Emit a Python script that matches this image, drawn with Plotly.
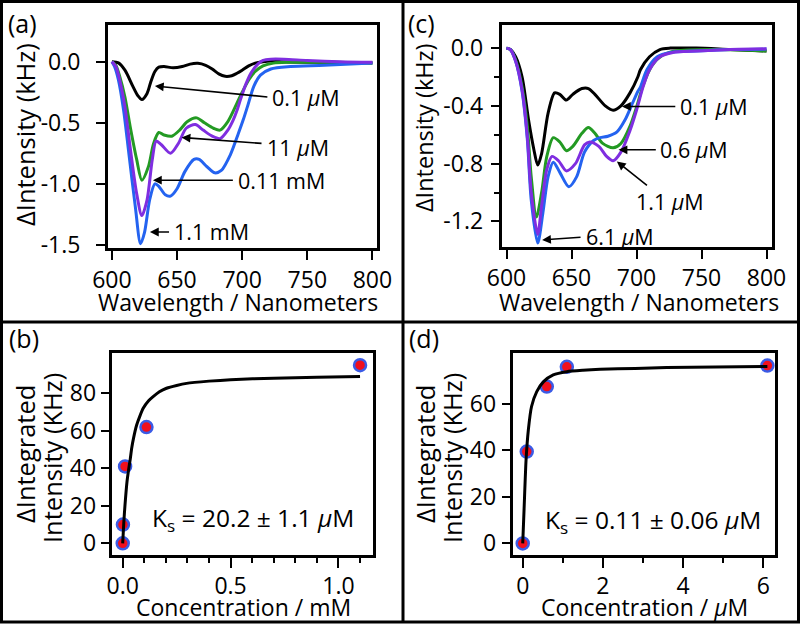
import plotly.graph_objects as go

W, H = 800, 629
FONT = "Open Sans"

# ---------------- Panel (a) spectra ----------------
a_black_wl = [600, 605, 610, 616, 620, 623, 627, 630, 633, 636, 640, 647, 654, 660, 666, 672, 677, 682, 687, 692, 696, 700, 705, 710, 716, 722, 730, 760, 800]
a_black_y = [0, -0.01, -0.07, -0.20, -0.28, -0.31, -0.26, -0.16, -0.08, -0.045, -0.04, -0.05, -0.04, -0.02, -0.014, -0.03, -0.06, -0.10, -0.12, -0.115, -0.095, -0.07, -0.035, -0.012, 0.0, 0.005, 0.0, -0.005, -0.01]

a_green_wl = [600, 603, 606, 610, 614, 619, 623, 628, 632, 636, 640, 646, 652, 658, 665, 671, 678, 683, 689, 696, 700, 705, 710, 716, 724, 735, 770, 800]
a_green_y = [0, -0.03, -0.12, -0.29, -0.53, -0.80, -0.97, -0.86, -0.67, -0.58, -0.60, -0.61, -0.56, -0.49, -0.46, -0.50, -0.545, -0.56, -0.49, -0.34, -0.25, -0.15, -0.08, -0.035, -0.012, -0.005, -0.005, -0.01]

a_purple_wl = [600, 603, 606, 610, 614, 619, 623, 627, 631, 634, 638, 645, 651, 657, 664, 670, 677, 683, 689, 693, 696, 699, 703, 707, 712, 716, 722, 732, 750, 775, 800]
a_purple_y = [0, -0.04, -0.15, -0.37, -0.70, -1.08, -1.26, -1.13, -0.80, -0.65, -0.68, -0.75, -0.67, -0.545, -0.515, -0.56, -0.61, -0.63, -0.56, -0.48, -0.40, -0.30, -0.18, -0.09, -0.02, 0.01, 0.02, 0.02, 0.01, 0.0, -0.005]

a_blue_wl = [600, 602, 605, 609, 613, 618, 622, 625, 629, 633, 636, 641, 645, 650, 656, 663, 667, 673, 679, 684, 691, 697, 701, 704, 709, 714, 722, 737, 763, 800]
a_blue_y = [0, -0.04, -0.15, -0.40, -0.75, -1.19, -1.49, -1.40, -1.13, -1.00, -1.02, -1.09, -1.10, -1.04, -0.90, -0.80, -0.80, -0.86, -0.91, -0.89, -0.76, -0.59, -0.47, -0.37, -0.20, -0.11, -0.06, -0.04, -0.03, -0.01]

# ---------------- Panel (c) spectra ----------------
c_black_wl = [600, 603, 607, 612, 617, 621, 624, 627, 632, 637, 641, 646, 651, 658, 663, 668, 676, 682, 688, 695, 701, 703, 710, 718, 726, 746, 772, 800]
c_black_y = [0, -0.01, -0.06, -0.20, -0.50, -0.70, -0.81, -0.73, -0.45, -0.31, -0.32, -0.36, -0.32, -0.28, -0.28, -0.32, -0.40, -0.43, -0.40, -0.31, -0.20, -0.15, -0.06, -0.01, 0.0, 0.0, -0.01, -0.02]

c_green_wl = [600, 603, 607, 612, 616, 619, 623, 627, 631, 636, 641, 646, 651, 658, 663, 668, 674, 682, 688, 695, 701, 705, 712, 720, 730, 760, 800]
c_green_y = [0, -0.01, -0.08, -0.27, -0.54, -0.89, -1.17, -1.0, -0.75, -0.62, -0.65, -0.71, -0.68, -0.59, -0.55, -0.59, -0.66, -0.69, -0.66, -0.54, -0.38, -0.26, -0.12, -0.05, -0.02, -0.01, -0.02]

c_blue_wl = [600, 603, 607, 612, 616, 619, 624, 628, 632, 636, 641, 648, 654, 660, 667, 672, 678, 685, 691, 697, 701, 703, 708, 716, 726, 746, 772, 800]
c_blue_y = [0, -0.01, -0.09, -0.30, -0.63, -1.05, -1.35, -1.14, -0.89, -0.79, -0.86, -0.96, -0.89, -0.72, -0.64, -0.62, -0.61, -0.58, -0.50, -0.38, -0.30, -0.27, -0.15, -0.06, -0.03, -0.02, -0.01, -0.007]

c_purple_wl = [600, 603, 607, 612, 616, 619, 624, 627, 631, 635, 640, 646, 653, 660, 664, 671, 677, 682, 688, 695, 700, 705, 710, 718, 728, 746, 772, 800]
c_purple_y = [0, -0.01, -0.09, -0.29, -0.61, -1.0, -1.29, -1.09, -0.84, -0.75, -0.78, -0.85, -0.80, -0.67, -0.65, -0.68, -0.75, -0.78, -0.72, -0.57, -0.43, -0.27, -0.15, -0.06, -0.03, -0.02, -0.01, -0.005]

# ---------------- Panel (b) binding ----------------
b_conc = [0.0001, 0.0011, 0.011, 0.11, 1.1]
b_int = [0, 10, 41, 62, 95]
b_fit_x = [0, 0.005, 0.0106, 0.02, 0.026, 0.035, 0.0416, 0.05, 0.0647, 0.08, 0.095, 0.12, 0.141, 0.17, 0.203, 0.25, 0.296, 0.4, 0.5, 0.7, 0.9, 1.1]
b_fit_y = [0, 11, 20.4, 33, 38.2, 45, 50.7, 56, 63.1, 68, 72, 76, 78.2, 80.8, 82.7, 84.2, 85.3, 86.5, 87.3, 88.1, 88.6, 89.0]

# ---------------- Panel (d) binding ----------------
d_conc = [0, 0.1, 0.6, 1.1, 6.1]
d_int = [0, 39.5, 67.5, 76, 76.5]
d_fit_x = [0, 0.033, 0.083, 0.14, 0.22, 0.35, 0.52, 0.76, 1.1, 1.5, 1.93, 2.8, 3.59, 4.8, 6.1]
d_fit_y = [0, 14.4, 35.9, 48.8, 58.9, 65.3, 69.6, 72.5, 73.9, 74.5, 74.9, 75.3, 75.7, 75.9, 76.1]

# tick labels
a_yticks = [0, -0.5, -1.0, -1.5]
a_yticktext = ["0.0", "-0.5", "-1.0", "-1.5"]
c_yticks = [0, -0.4, -0.8, -1.2]
c_yticktext = ["0.0", "-0.4", "-0.8", "-1.2"]
wl_ticks = [600, 650, 700, 750, 800]
b_xticks = [0, 0.5, 1.0]
b_xticktext = ["0.0", "0.5", "1.0"]
b_yticks = [0, 20, 40, 60, 80]
d_xticks = [0, 2, 4, 6]
d_yticks = [0, 20, 40, 60]

BLACK = "#000000"
GREEN = "#239a23"
PURPLE = "#7f2ee0"
BLUE = "#2463f0"

fig = go.Figure()


def spec(x, y, color, xa, ya):
    fig.add_trace(go.Scatter(x=x, y=y, mode="lines", xaxis=xa, yaxis=ya,
                             line=dict(color=color, width=3, shape="spline", smoothing=0.8),
                             showlegend=False, hoverinfo="skip"))


spec(a_black_wl, a_black_y, BLACK, "x", "y")
spec(a_green_wl, a_green_y, GREEN, "x", "y")
spec(a_blue_wl, a_blue_y, BLUE, "x", "y")
spec(a_purple_wl, a_purple_y, PURPLE, "x", "y")

spec(c_black_wl, c_black_y, BLACK, "x2", "y2")
spec(c_green_wl, c_green_y, GREEN, "x2", "y2")
spec(c_blue_wl, c_blue_y, BLUE, "x2", "y2")
spec(c_purple_wl, c_purple_y, PURPLE, "x2", "y2")

for cx, cy, fx, fy, xa, ya in [(b_conc, b_int, b_fit_x, b_fit_y, "x3", "y3"),
                               (d_conc, d_int, d_fit_x, d_fit_y, "x4", "y4")]:
    fig.add_trace(go.Scatter(x=cx, y=cy, mode="markers", xaxis=xa, yaxis=ya,
                             marker=dict(size=12, color="#f0101e", line=dict(color="#3b5be6", width=2.5)),
                             showlegend=False, hoverinfo="skip"))
    fig.add_trace(go.Scatter(x=fx, y=fy, mode="lines", xaxis=xa, yaxis=ya,
                             line=dict(color="black", width=3, shape="spline", smoothing=0.6),
                             showlegend=False, hoverinfo="skip"))


def axis(domain, anchor, rng, tickvals, ticktext=None, minor=None, ticklen=9, standoff=4):
    d = dict(domain=domain, anchor=anchor, range=rng, showline=True, linewidth=3, linecolor="black",
             mirror=True, ticks="outside", ticklen=ticklen, tickwidth=2, tickcolor="black",
             showgrid=False, zeroline=False, tickvals=tickvals, automargin=False,
             tickfont=dict(size=23, color="black", family=FONT), ticklabelstandoff=standoff)
    if ticktext is not None:
        d["ticktext"] = ticktext
    if minor is not None:
        d["minor"] = dict(dtick=minor, ticks="outside", ticklen=5, tickwidth=2, tickcolor="black", showgrid=False)
    return d


def px(x):
    return x / W


def py(y):
    return 1 - y / H


fig.update_layout(
    template="none",
    width=W, height=H, autosize=False,
    margin=dict(l=0, r=0, t=0, b=0, pad=0),
    paper_bgcolor="white", plot_bgcolor="white",
    font=dict(family=FONT, color="black", size=20),
    xaxis=axis([px(108), px(377)], "y", [597, 803.5], wl_ticks, ticklen=9, standoff=0),
    yaxis=axis([py(248), py(25)], "x", [-1.525, 0.30], a_yticks, a_yticktext, ticklen=9, standoff=11),
    xaxis2=axis([px(501.7), px(771.7)], "y2", [596.3, 804], wl_ticks, ticklen=9, standoff=0),
    yaxis2=axis([py(246.7), py(25)], "x2", [-1.375, 0.16], c_yticks, c_yticktext, minor=0.2, ticklen=8, standoff=3),
    xaxis3=axis([px(111.7), px(373)], "y3", [-0.051, 1.16], b_xticks, b_xticktext, minor=0.1, ticklen=10, standoff=-2),
    yaxis3=axis([py(555), py(353)], "x3", [-6.2, 101.5], b_yticks, ticklen=8, standoff=0),
    xaxis4=axis([px(512.7), px(775)], "y4", [-0.25, 6.29], d_xticks, minor=1, ticklen=10, standoff=-2),
    yaxis4=axis([py(555), py(353.3)], "x4", [-5.0, 81.8], d_yticks, ticklen=8, standoff=1),
)

ann = []


def ptext(text, x, y, angle=0, size=23, xanchor="center"):
    ann.append(dict(text=text, x=px(x), y=py(y), xref="paper", yref="paper", showarrow=False,
                    textangle=angle, xanchor=xanchor, yanchor="middle",
                    font=dict(size=size, family=FONT, color="black")))


ptext("ΔIntensity (kHz)", 25, 135, -90, size=25.5)
ptext("Wavelength / Nanometers", 238, 302)
ptext("ΔIntensity (kHz)", 424, 128, -90, size=23.5)
ptext("Wavelength / Nanometers", 639, 302)
ptext("ΔIntegrated", 25, 454, -90, size=25.5)
ptext("Intensity (KHz)", 52, 458, -90, size=25.5)
ptext("ΔIntegrated", 425, 454, -90, size=25.5)
ptext("Intensity (KHz)", 452, 458, -90, size=25.5)
ptext("Concentration / mM", 243, 607)
ptext("Concentration / <i>µ</i>M", 644, 607)
ptext("(a)", 6, 23, size=25, xanchor="left")
ptext("(c)", 406, 23, size=25, xanchor="left")
ptext("(b)", 7, 338, size=25, xanchor="left")
ptext("(d)", 407, 338, size=25, xanchor="left")


def arrow(xr, yr, tip, tail):
    ann.append(dict(text="", x=tip[0], y=tip[1], ax=tail[0], ay=tail[1], xref=xr, yref=yr,
                    axref=xr, ayref=yr, showarrow=True, arrowhead=2, arrowsize=1.1,
                    arrowwidth=1.6, arrowcolor="black", standoff=0, startstandoff=0))


def dtext(xr, yr, text, x, y, size=21.5, xanchor="left"):
    ann.append(dict(text=text, x=x, y=y, xref=xr, yref=yr, showarrow=False, xanchor=xanchor,
                    yanchor="middle", font=dict(size=size, family=FONT, color="black")))


# panel (a) labels
arrow("x", "y", (633, -0.20), (720.5, -0.29))
dtext("x", "y", "0.1 <i>µ</i>M", 721.5, -0.297)
arrow("x", "y", (653.5, -0.62), (716, -0.67))
dtext("x", "y", "11 <i>µ</i>M", 717.5, -0.70)
arrow("x", "y", (631.5, -0.97), (694, -0.97))
dtext("x", "y", "0.11 mM", 695, -0.97)
arrow("x", "y", (629.2, -1.394), (645, -1.394))
dtext("x", "y", "1.1 mM", 646, -1.394)

# panel (c) labels
arrow("x2", "y2", (688.8, -0.404), (731, -0.404))
dtext("x2", "y2", "0.1 <i>µ</i>M", 732, -0.404)
arrow("x2", "y2", (686.2, -0.704), (716, -0.704))
dtext("x2", "y2", "0.6 <i>µ</i>M", 716.8, -0.704)
arrow("x2", "y2", (684.9, -0.785), (709.2, -0.958))
dtext("x2", "y2", "1.1 <i>µ</i>M", 725.8, -1.062, xanchor="center")
arrow("x2", "y2", (627.4, -1.328), (658.1, -1.309))
dtext("x2", "y2", "6.1 <i>µ</i>M", 659.3, -1.305)

# Ks labels
dtext("x3", "y3", "K<sub>s</sub> = 20.2 ± 1.1 <i>µ</i>M", 0.126, 12.8, size=24.5)
dtext("x4", "y4", "K<sub>s</sub> = 0.11 ± 0.06 <i>µ</i>M", 0.514, 9.6, size=24.5)

fig.update_layout(annotations=ann)

shapes = [
    dict(type="rect", xref="paper", yref="paper", x0=px(1.5), x1=px(798.5), y0=py(622), y1=py(1.5),
         line=dict(color="black", width=3)),
    dict(type="line", xref="paper", yref="paper", x0=px(403), x1=px(403), y0=py(622), y1=py(1.5),
         line=dict(color="black", width=3)),
    dict(type="line", xref="paper", yref="paper", x0=px(1.5), x1=px(798.5), y0=py(322), y1=py(322),
         line=dict(color="black", width=3)),
]
fig.update_layout(shapes=shapes)

fig.write_html("out.html", config={"displayModeBar": False},
               post_script="document.body.style.margin='0px';document.body.style.padding='0px';")
